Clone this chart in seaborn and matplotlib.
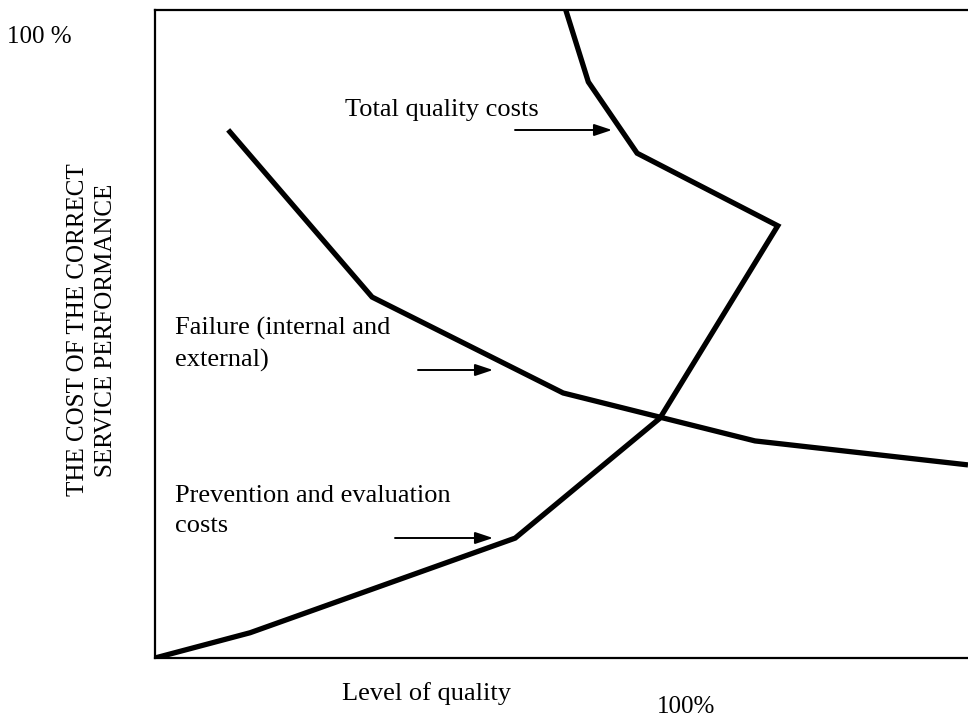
import pandas as pd
import matplotlib
matplotlib.use('Agg')
import matplotlib.pyplot as plt
import seaborn as sns

# === DATOS (porcentaje del eje) ===
prevention_x = [0, 11.7, 44.3, 62.1]
prevention_y = [0, 3.9, 18.5, 37.0]

total_x = [62.1, 76.6, 59.3, 53.3, 50.4]
total_y = [37.0, 66.7, 77.9, 88.9, 100.5]

failure_x = [9.0, 26.7, 50.2, 73.8, 100]
failure_y = [81.5, 55.7, 40.9, 33.5, 29.8]

# === ESTILO ===
sns.set_theme(style='white')
plt.rcParams['font.family'] = ['Liberation Serif', 'DejaVu Serif']

W, H = 968, 718
fig = plt.figure(figsize=(W / 100, H / 100), dpi=100)
ax = fig.add_axes([155 / W, (H - 658) / H, 813 / W, 648 / H])

curves = [
    ('prevention', prevention_x, prevention_y),
    ('total', total_x, total_y),
    ('failure', failure_x, failure_y),
]
for name, xs, ys in curves:
    df = pd.DataFrame({'x': xs, 'y': ys})
    sns.lineplot(data=df, x='x', y='y', sort=False, estimator=None,
                 color='black', linewidth=3.8, ax=ax,
                 solid_joinstyle='miter', solid_capstyle='butt')

ax.set_xlim(0, 100)
ax.set_ylim(0, 100)
ax.set_xticks([])
ax.set_yticks([])
ax.set_xlabel('')
ax.set_ylabel('')
for side in ['left', 'top', 'bottom']:
    ax.spines[side].set_visible(True)
    ax.spines[side].set_color('black')
    ax.spines[side].set_linewidth(1.6)
ax.spines['right'].set_visible(False)

# === TEXTOS ===
fs = 19

def ftext(px, py, s, size=fs, **kw):
    fig.text(px / W, 1 - py / H, s, fontsize=size, color='black', **kw)

ftext(7, 37, '100 %', size=18, ha='left', va='center')
ftext(345, 110, 'Total quality costs', ha='left', va='center')
ftext(175, 344, 'Failure (internal and\nexternal)', ha='left', va='center',
      linespacing=1.5)
ftext(175, 511, 'Prevention and evaluation\ncosts', ha='left', va='center',
      linespacing=1.5)
ftext(342, 694, 'Level of quality', ha='left', va='center')
ftext(657, 707, '100%', size=18, ha='left', va='center')
ftext(92, 330, 'THE COST OF THE CORRECT\nSERVICE PERFORMANCE', size=18,
      ha='center', va='center', rotation=90, multialignment='center',
      linespacing=1.35)

# Flechas
arrows = [((515, 130), (612, 130)), ((418, 370), (493, 370)), ((395, 538), (493, 538))]
for (x0, y0), (x1, y1) in arrows:
    ax.annotate('', xy=(x1, H - y1), xycoords='figure pixels',
                xytext=(x0, H - y0), textcoords='figure pixels',
                arrowprops=dict(arrowstyle='-|>,head_length=0.9,head_width=0.3',
                                color='black', lw=1.4, shrinkA=0, shrinkB=0))

fig.savefig('out.png', dpi=100)
